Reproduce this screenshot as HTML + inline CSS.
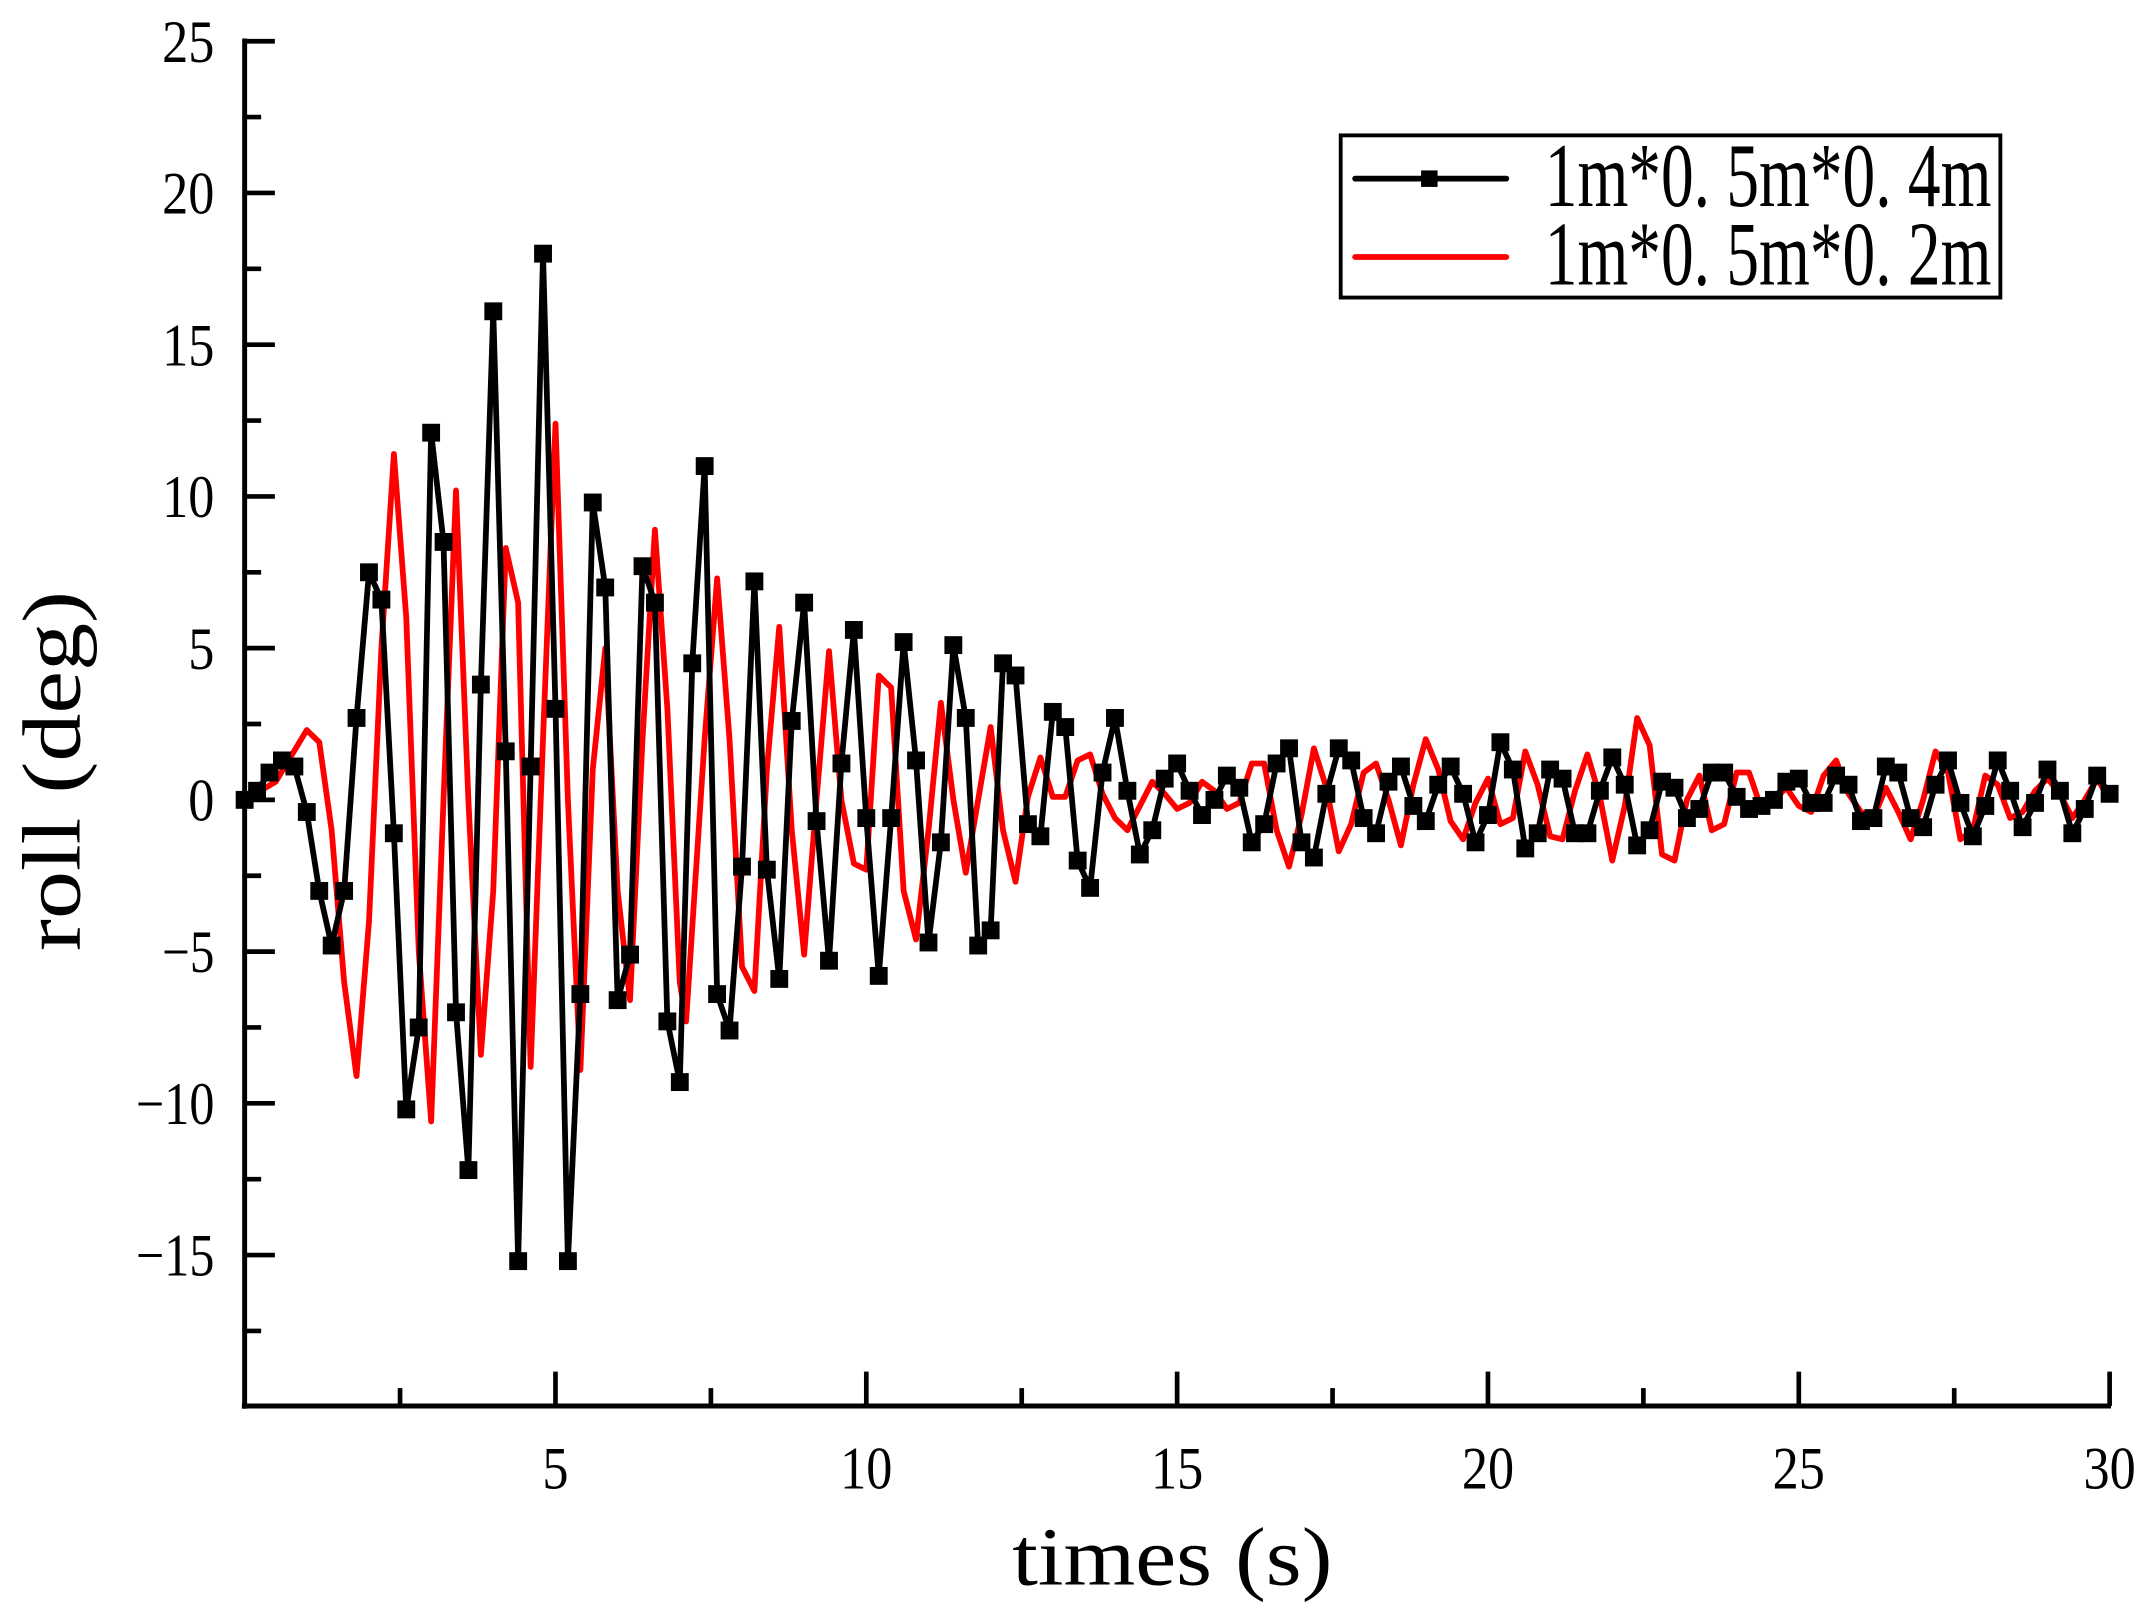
<!DOCTYPE html>
<html><head><meta charset="utf-8"><style>html,body{margin:0;padding:0;background:#fff}svg{display:block}</style></head>
<body>
<svg id="s" width="2155" height="1608" viewBox="0 0 1568 1170" xmlns="http://www.w3.org/2000/svg" font-family="Liberation Serif, serif">
<rect width="1568" height="1170" fill="#fff"/>
<g id="axes" stroke="#000" stroke-width="3.6" fill="none">
<line x1="178" y1="28" x2="178" y2="1025"/>
<line x1="176" y1="1023" x2="1536" y2="1023"/>
</g>
<g id="ticks" stroke="#000" stroke-width="3.4"></g>
<g id="labels" font-size="44" fill="#000"></g>
<text x="853" y="1153" font-size="60" text-anchor="middle" textLength="233" lengthAdjust="spacingAndGlyphs">times (s)</text>
<text transform="translate(58,561) rotate(-90)" font-size="60" text-anchor="middle" textLength="262" lengthAdjust="spacingAndGlyphs">roll (deg)</text>
<path id="red" fill="none" stroke="#f00" stroke-width="4.2" stroke-linejoin="round"/>
<path id="blk" fill="none" stroke="#000" stroke-width="4.2" stroke-linejoin="round"/>
<g id="mk" fill="#000"></g>
<rect x="975.5" y="98.5" width="480" height="118" fill="#fff" stroke="#000" stroke-width="2.8"/>
<line x1="986" y1="130" x2="1096" y2="130" stroke="#000" stroke-width="4.2" stroke-linecap="round"/>
<rect x="1034" y="124" width="12" height="12" fill="#000"/>
<line x1="986" y1="187" x2="1096" y2="187" stroke="#f00" stroke-width="4.2" stroke-linecap="round"/>
<text x="1124" y="150" font-size="66" textLength="325" lengthAdjust="spacingAndGlyphs">1m*0. 5m*0. 4m</text>
<text x="1124" y="207" font-size="66" textLength="325" lengthAdjust="spacingAndGlyphs">1m*0. 5m*0. 2m</text>
</svg>
<script>
var X=function(t){return 178+t*45.233;},Y=function(v){return 582-v*22.08;};
var tk=document.getElementById('ticks'),lb=document.getElementById('labels'),ns='http://www.w3.org/2000/svg';
function L(a,b,c,d){var e=document.createElementNS(ns,'line');e.setAttribute('x1',a);e.setAttribute('y1',b);e.setAttribute('x2',c);e.setAttribute('y2',d);tk.appendChild(e);}
function T(x,y,s,anc,len){var e=document.createElementNS(ns,'text');e.setAttribute('x',x);e.setAttribute('y',y);e.setAttribute('text-anchor',anc);e.textContent=s;e.setAttribute('textLength',len);e.setAttribute('lengthAdjust','spacingAndGlyphs');lb.appendChild(e);}
for(var v=-17.5;v<=25.01;v+=2.5){var maj=Math.abs(v%5)<0.01;L(178,Y(v),178+(maj?22:12),Y(v));
 if(maj&&v>=-15){var s=v<0?'\u2212'+(-v):''+v;T(156,Y(v)+15,s,'end',s.length*19);}}
for(var t=2.5;t<=30.01;t+=2.5){var maj=Math.abs(t%5)<0.01;L(X(t),1023,X(t),1023-(maj?25:13));
 if(maj){T(X(t),1083,''+t,'middle',(''+t).length*19);}}
var b=[0,0.3,0.9,1.3,1.1,-0.4,-3,-4.8,-3,2.7,7.5,6.6,-1.1,-10.2,-7.5,12.1,8.5,-7,-12.2,3.8,16.1,1.6,-15.2,1.1,18,3,-15.2,-6.4,9.8,7,-6.6,-5.1,7.7,6.5,-7.3,-9.3,4.5,11,-6.4,-7.6,-2.2,7.2,-2.3,-5.9,2.6,6.5,-0.7,-5.3,1.2,5.6,-0.6,-5.8,-0.6,5.2,1.3,-4.7,-1.4,5.1,2.7,-4.8,-4.3,4.5,4.1,-0.8,-1.2,2.9,2.4,-2,-2.9,0.9,2.7,0.3,-1.8,-1,0.7,1.2,0.3,-0.5,0,0.8,0.4,-1.4,-0.8,1.2,1.7,-1.4,-1.9,0.2,1.7,1.3,-0.6,-1.1,0.6,1.1,-0.2,-0.7,0.5,1.1,0.2,-1.4,-0.5,1.9,1,-1.6,-1.1,1,0.7,-1.1,-1.1,0.3,1.4,0.5,-1.5,-1,0.6,0.4,-0.6,-0.3,0.9,0.9,0.1,-0.3,-0.2,0,0.6,0.7,-0.1,-0.1,0.8,0.5,-0.7,-0.6,1.1,0.9,-0.6,-0.9,0.5,1.3,-0.1,-1.2,-0.2,1.3,0.3,-0.9,-0.1,1,0.3,-1.1,-0.3,0.8,0.2];
var d='',mk=document.getElementById('mk');
for(var i=0;i<b.length;i++){var x=X(i*0.2),y=Y(b[i]);d+=(i?'L':'M')+x.toFixed(1)+' '+y.toFixed(1);
 var r=document.createElementNS(ns,'rect');r.setAttribute('x',x-6.5);r.setAttribute('y',y-6.5);r.setAttribute('width',13);r.setAttribute('height',13);mk.appendChild(r);}
document.getElementById('blk').setAttribute('d',d);
var rp=[[0,0],[0.5,0.6],[1,2.3],[1.2,1.9],[1.4,-1],[1.6,-6],[1.8,-9.1],[2,-4],[2.2,5],[2.4,11.4],[2.6,6],[2.8,-5],[3,-10.6],[3.2,0],[3.4,10.2],[3.6,0],[3.8,-8.4],[4,-3],[4.2,8.3],[4.4,6.5],[4.6,-8.8],[4.8,2],[5,12.4],[5.2,0],[5.4,-8.9],[5.6,1],[5.8,5],[6,-3],[6.2,-6.6],[6.4,2],[6.6,8.9],[6.8,3],[7,-6],[7.1,-7.3],[7.4,2],[7.6,7.3],[7.8,2],[8,-5.5],[8.2,-6.3],[8.4,1],[8.6,5.7],[8.8,-1],[9,-5.1],[9.2,0],[9.4,4.9],[9.6,0],[9.8,-2.1],[10,-2.3],[10.2,4.1],[10.4,3.7],[10.6,-3],[10.8,-4.6],[11,-1],[11.2,3.2],[11.4,0],[11.6,-2.4],[11.8,0],[12,2.4],[12.2,-1],[12.4,-2.7],[12.6,0.1],[12.8,1.4],[13,0.1],[13.2,0.1],[13.4,1.3],[13.6,1.5],[13.8,0.2],[14,-0.6],[14.2,-1],[14.4,-0.2],[14.6,0.6],[14.8,0.2],[15,-0.3],[15.2,-0.1],[15.4,0.6],[15.6,0.3],[15.8,-0.3],[16,-0.1],[16.2,1.2],[16.4,1.2],[16.6,-1],[16.8,-2.2],[17,-0.5],[17.2,1.7],[17.4,0.4],[17.6,-1.7],[17.8,-0.8],[18,0.9],[18.2,1.2],[18.4,0],[18.6,-1.5],[18.8,0.5],[19,2],[19.2,1],[19.4,-0.7],[19.6,-1.3],[19.8,-0.1],[20,0.7],[20.2,-0.8],[20.4,-0.6],[20.6,1.6],[20.8,0.5],[21,-1.2],[21.2,-1.3],[21.4,0.3],[21.6,1.5],[21.8,0.1],[22,-2],[22.2,-0.2],[22.4,2.7],[22.6,1.8],[22.8,-1.8],[23,-2],[23.2,0],[23.4,0.8],[23.6,-1],[23.8,-0.8],[24,0.9],[24.2,0.9],[24.4,-0.3],[24.6,0],[24.8,0.4],[25,-0.2],[25.2,-0.4],[25.4,0.8],[25.6,1.3],[25.8,0.2],[26,-0.4],[26.2,-0.6],[26.4,0.4],[26.6,-0.4],[26.8,-1.3],[27,0],[27.2,1.6],[27.4,0.9],[27.6,-1.3],[27.8,-1],[28,0.8],[28.2,0.5],[28.4,-0.6],[28.6,-0.4],[28.8,0.3],[29,0.7],[29.2,0.2],[29.4,-0.6],[29.6,0],[29.8,0.7],[30,0]];
d='';for(var i=0;i<rp.length;i++){d+=(i?'L':'M')+X(rp[i][0]).toFixed(1)+' '+Y(rp[i][1]).toFixed(1);}
document.getElementById('red').setAttribute('d',d);
</script>
</body></html>
